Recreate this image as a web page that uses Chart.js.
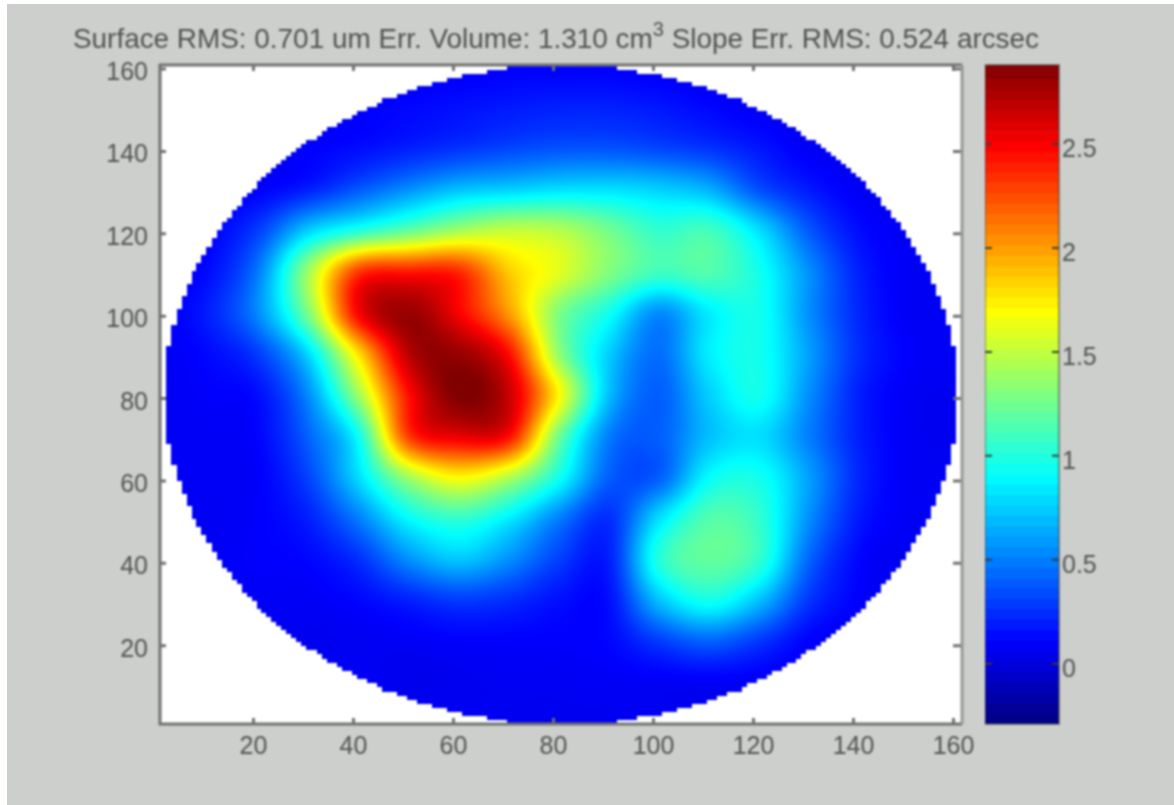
<!DOCTYPE html>
<html>
<head>
<meta charset="utf-8">
<script src="https://cdn.jsdelivr.net/npm/chart.js@4"></script>
<style>
  html, body { margin: 0; padding: 0; background: #fff; overflow: hidden; }
  #paper { position: absolute; left: 7px; top: 4px; width: 1167px; height: 801px; background: #cdcfcc; }
  canvas { position: absolute; top: 0; filter: blur(1px); }
  #map { left: 0; }
  #bar { left: 985px; }
</style>
</head>
<body>
<div id="paper"></div>
<canvas id="map" width="1174" height="805"></canvas>
<canvas id="bar" width="189" height="805"></canvas>
<script>
const titleBefore = 'Surface RMS: 0.701 um Err. Volume: 1.310 cm';
const titleSuper = '3';
const titleAfter = ' Slope Err. RMS: 0.524 arcsec';
const axisTicks = [20, 40, 60, 80, 100, 120, 140, 160];
const barTicks = [0, 0.5, 1, 1.5, 2, 2.5];
const colorMin = -0.29;
const colorMax = 2.88;

// sample positions of the surface, read every 10 units
const gridX = [1, 11, 21, 31, 41, 51, 61, 71, 81, 91, 101, 111, 121, 131, 141, 151, 161];
const gridY = [161, 151, 141, 131, 121, 111, 101, 91, 81, 71, 61, 51, 41, 31, 21, 11, 1];
const n = null;
const heatValues = [
  [n, n, n, n, n, n, n, .1, .1, .1, n, n, n, n, n, n, n],
  [n, n, n, n, .1, .12, .15, .18, .2, .2, .17, .12, .08, n, n, n, n],
  [n, n, n, .1, .14, .2, .26, .32, .36, .36, .32, .26, .17, .08, n, n, n],
  [n, n, .1, .2, .38, .55, .7, .75, .8, .8, .75, .65, .35, .18, .08, n, n],
  [n, .1, .3, .75, 1.0, 1.2, 1.4, 1.5, 1.45, 1.25, 1.05, 1.1, .8, .38, .14, .08, n],
  [n, .14, .5, 1.4, 2.3, 2.4, 2.35, 1.85, 1.6, 1.3, 1.1, 1.15, .95, .55, .2, .08, n],
  [n, .2, .55, 1.3, 2.5, 2.8, 2.5, 2.0, 1.3, .95, .55, .85, .95, .55, .22, .08, n],
  [.08, .13, .3, .8, 1.8, 2.7, 2.8, 2.45, 1.35, .75, .45, .85, .95, .6, .24, .1, .08],
  [.08, .1, .15, .55, 1.4, 2.45, 2.88, 2.65, 1.7, .7, .4, .75, .95, .55, .2, .08, .06],
  [.08, .08, .12, .42, .95, 2.3, 2.55, 2.45, 1.25, .5, .4, .7, .8, .5, .2, .08, .06],
  [n, .08, .1, .32, .8, 1.4, 1.7, 1.45, .95, .4, .4, .9, .95, .6, .22, .08, n],
  [n, .07, .1, .2, .5, .9, 1.05, .85, .5, .25, .8, 1.15, 1.05, .55, .18, .08, n],
  [n, n, .1, .12, .25, .55, .72, .55, .3, .2, 1.0, 1.2, 1.05, .42, .12, .06, n],
  [n, n, .08, .08, .12, .2, .28, .24, .15, .15, .7, .95, .7, .27, .1, n, n],
  [n, n, n, .06, .07, .08, .1, .1, .1, .12, .28, .4, .27, .1, n, n, n],
  [n, n, n, n, n, .05, .06, .07, .07, .08, .08, .08, n, n, n, n, n],
  [n, n, n, n, n, n, n, .06, .06, .06, n, n, n, n, n, n, n]
];
const outsideValue = 0.08;

// blocky edge of the disc: half width of each 1 unit row, bottom row first
const discCenterX = 81.6;
const discHalfWidth = [
  11, 15, 20, 23, 26, 29, 31, 33, 36, 37, 39, 41, 42, 44, 45, 47, 48, 49, 51, 52,
  53, 54, 55, 56, 57, 58, 59, 60, 61, 61, 62, 63, 64, 64, 65, 66, 66, 67, 68, 68,
  69, 69, 70, 70, 71, 71, 72, 72, 73, 73, 74, 74, 74, 75, 75, 75, 76, 76, 76, 77,
  77, 77, 77, 78, 78, 78, 78, 78, 79, 79, 79, 79, 79, 79, 79, 79, 79, 79, 79, 79,
  79, 79, 79, 79, 79, 79, 79, 79, 79, 79, 79, 79, 78, 78, 78, 78, 78, 77, 77, 77,
  77, 76, 76, 76, 75, 75, 75, 74, 74, 74, 73, 73, 72, 72, 71, 71, 70, 70, 69, 69,
  68, 68, 67, 66, 66, 65, 64, 64, 63, 62, 61, 61, 60, 59, 58, 57, 56, 55, 54, 53,
  52, 51, 49, 48, 47, 45, 44, 42, 41, 39, 37, 36, 33, 31, 29, 26, 23, 20, 15, 11
];

const barLevels = [
  -.29, -.24, -.19, -.14, -.09, -.04, .01, .06, .11, .16, .21, .26, .31, .36, .41, .46,
  .51, .56, .61, .66, .71, .76, .81, .86, .91, .96, 1.01, 1.06, 1.11, 1.16, 1.21, 1.26,
  1.31, 1.36, 1.41, 1.46, 1.51, 1.56, 1.61, 1.66, 1.71, 1.76, 1.81, 1.86, 1.91, 1.96, 2.01, 2.06,
  2.11, 2.16, 2.21, 2.26, 2.31, 2.36, 2.41, 2.46, 2.51, 2.56, 2.61, 2.66, 2.71, 2.76, 2.81, 2.88
];

const textColor = '#505250';
const tickFont = { family: '"Liberation Sans"', size: 25 };

const clamp01 = (v) => Math.max(0, Math.min(1, v));

function jet(value) {
  const t = clamp01((value - colorMin) / (colorMax - colorMin));
  return [
    Math.round(255 * clamp01(Math.min(4 * t - 1.5, -4 * t + 4.5))),
    Math.round(255 * clamp01(Math.min(4 * t - 0.5, -4 * t + 3.5))),
    Math.round(255 * clamp01(Math.min(4 * t + 0.5, -4 * t + 2.5)))
  ];
}

function sample(i, j) {
  const r = heatValues[Math.max(0, Math.min(gridY.length - 1, j))];
  const v = r[Math.max(0, Math.min(gridX.length - 1, i))];
  return v === null ? outsideValue : v;
}

function cubic(a, b, c, d, t) {
  return b + 0.5 * t * (c - a + t * (2 * a - 5 * b + 4 * c - d + t * (3 * (b - c) + d - a)));
}

// smooth shading between the samples, like shading interp
function surfaceAt(x, y) {
  const fx = (x - gridX[0]) / 10;
  const fy = (gridY[0] - y) / 10;
  const i = Math.floor(fx), j = Math.floor(fy);
  const tx = fx - i, ty = fy - j;
  const rows = [-1, 0, 1, 2].map((dj) => cubic(
    sample(i - 1, j + dj), sample(i, j + dj), sample(i + 1, j + dj), sample(i + 2, j + dj), tx));
  return cubic(rows[0], rows[1], rows[2], rows[3], ty);
}

function insideDisc(x, y) {
  const row = Math.floor(y) - 1;
  if (row < 0 || row >= discHalfWidth.length) return false;
  return Math.abs(Math.round(x) - discCenterX) <= discHalfWidth[row];
}

const surfacePlugin = {
  id: 'surface',
  beforeDatasetsDraw(chart) {
    const { ctx, chartArea: a, scales } = chart;
    const left = Math.round(a.left), top = Math.round(a.top);
    const w = Math.round(a.right) - left, h = Math.round(a.bottom) - top;
    const img = ctx.createImageData(w, h);
    for (let py = 0; py < h; py++) {
      const y = scales.y.getValueForPixel(top + py);
      for (let px = 0; px < w; px++) {
        const x = scales.x.getValueForPixel(left + px);
        const c = insideDisc(x, y) ? jet(surfaceAt(x, y)) : [255, 255, 255];
        const k = (py * w + px) * 4;
        img.data[k] = c[0];
        img.data[k + 1] = c[1];
        img.data[k + 2] = c[2];
        img.data[k + 3] = 255;
      }
    }
    ctx.putImageData(img, left, top);
  },
  afterDraw(chart) {
    const { ctx, chartArea: a, scales } = chart;
    ctx.save();
    ctx.lineWidth = 3;
    ctx.strokeStyle = '#6f716f';
    axisTicks.forEach((t) => {
      const px = scales.x.getPixelForValue(t);
      const py = scales.y.getPixelForValue(t);
      ctx.beginPath();
      ctx.moveTo(px, a.bottom); ctx.lineTo(px, a.bottom - 6);
      ctx.moveTo(px, a.top); ctx.lineTo(px, a.top + 6);
      ctx.moveTo(a.left, py); ctx.lineTo(a.left + 6, py);
      ctx.moveTo(a.right, py); ctx.lineTo(a.right - 9, py);
      ctx.stroke();
    });
    ctx.beginPath();
    ctx.moveTo(a.right, a.top); ctx.lineTo(a.left, a.top); ctx.lineTo(a.left, a.bottom); ctx.lineTo(a.right, a.bottom);
    ctx.stroke();
    ctx.strokeStyle = '#949694';
    ctx.beginPath();
    ctx.moveTo(a.right, a.top); ctx.lineTo(a.right, a.bottom);
    ctx.stroke();

    // title is wider than the plot and has a raised 3, so it goes here and not in the title plugin
    ctx.fillStyle = textColor;
    ctx.textBaseline = 'alphabetic';
    ctx.textAlign = 'left';
    ctx.font = '27.9px "Liberation Sans"';
    let tx = 73;
    ctx.fillText(titleBefore, tx, 48);
    tx += ctx.measureText(titleBefore).width;
    ctx.font = '20px "Liberation Sans"';
    ctx.fillText(titleSuper, tx, 36);
    tx += ctx.measureText(titleSuper).width;
    ctx.font = '27.9px "Liberation Sans"';
    ctx.fillText(titleAfter, tx, 48);
    ctx.restore();
  }
};

const barTickPlugin = {
  id: 'barTicks',
  afterDraw(chart) {
    const { ctx, chartArea: a, scales } = chart;
    ctx.save();
    ctx.strokeStyle = 'rgba(50,50,50,0.45)';
    ctx.lineWidth = 2;
    ctx.strokeRect(a.left, a.top, a.right - a.left, a.bottom - a.top);
    ctx.strokeStyle = '#3c3c3c';
    barTicks.forEach((t) => {
      const py = scales.y.getPixelForValue(t);
      ctx.beginPath();
      ctx.moveTo(a.left, py); ctx.lineTo(a.left + 7, py);
      ctx.moveTo(a.right, py); ctx.lineTo(a.right - 7, py);
      ctx.stroke();
    });
    ctx.restore();
  }
};

// keep the samples in the chart as a hidden scatter series, the plugin paints them
const points = [];
gridY.forEach((y, j) => gridX.forEach((x, i) => {
  if (heatValues[j][i] !== null) points.push({ x, y, v: heatValues[j][i] });
}));

new Chart(document.getElementById('map'), {
  type: 'scatter',
  data: { datasets: [{ label: 'surface', data: points, pointRadius: 0, pointHoverRadius: 0 }] },
  plugins: [surfacePlugin],
  options: {
    responsive: false,
    animation: false,
    events: [],
    layout: { padding: { top: 65, right: 212 } },
    plugins: {
      legend: { display: false },
      tooltip: { enabled: false },
      title: { display: false }
    },
    scales: {
      x: {
        type: 'linear',
        min: 1.3,
        max: 161.7,
        grid: { display: false, drawTicks: false },
        border: { display: false },
        afterBuildTicks: (s) => { s.ticks = axisTicks.map((value) => ({ value })); },
        afterFit: (s) => { s.height = 81; },
        ticks: { color: textColor, font: tickFont, padding: 8, maxRotation: 0, autoSkip: false }
      },
      y: {
        type: 'linear',
        min: 1,
        max: 161,
        grid: { display: false, drawTicks: false },
        border: { display: false },
        afterBuildTicks: (s) => { s.ticks = axisTicks.map((value) => ({ value })); },
        afterFit: (s) => { s.width = 160; },
        ticks: { color: textColor, font: tickFont, padding: 12, labelOffset: 4, autoSkip: false }
      }
    }
  }
});

new Chart(document.getElementById('bar'), {
  type: 'bar',
  data: {
    labels: ['colorbar'],
    datasets: barLevels.slice(0, -1).map((lo, i) => ({
      label: String(lo),
      data: [[lo, barLevels[i + 1]]],
      backgroundColor: 'rgb(' + jet((lo + barLevels[i + 1]) / 2).join(',') + ')',
      borderWidth: 0,
      grouped: false,
      categoryPercentage: 1,
      barPercentage: 1
    }))
  },
  plugins: [barTickPlugin],
  options: {
    responsive: false,
    animation: false,
    events: [],
    layout: { padding: { top: 65, bottom: 81 } },
    plugins: { legend: { display: false }, tooltip: { enabled: false }, title: { display: false } },
    scales: {
      x: { display: false },
      y: {
        position: 'right',
        min: colorMin,
        max: colorMax,
        grid: { display: false, drawTicks: false },
        border: { display: false },
        afterBuildTicks: (s) => { s.ticks = barTicks.map((value) => ({ value })); },
        afterFit: (s) => { s.width = 115; },
        ticks: { color: textColor, font: tickFont, padding: 3, labelOffset: 6, autoSkip: false, callback: (v) => String(v) }
      }
    }
  }
});
</script>
</body>
</html>
